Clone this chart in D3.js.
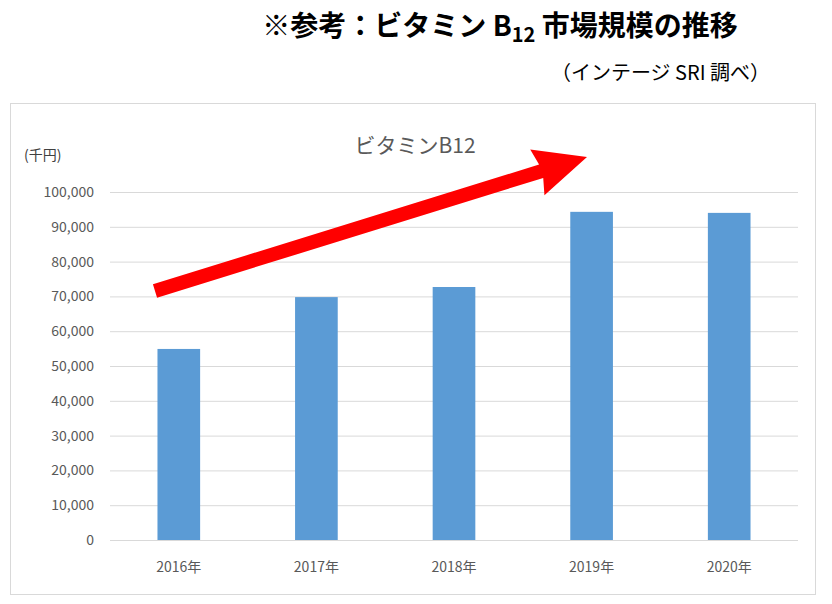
<!DOCTYPE html><html><head><meta charset="utf-8">
<script src="https://cdn.jsdelivr.net/npm/d3@7"></script>
<style>body{margin:0;background:#fff}text{font-family:"Noto Sans CJK JP","Noto Sans",sans-serif}</style>
</head><body><svg id="c" width="832" height="604"></svg>
<script>
const categories=["2016年","2017年","2018年","2019年","2020年"];
const values=[54900,69800,72700,94300,94000];
const yTicks=[0,10000,20000,30000,40000,50000,60000,70000,80000,90000,100000];
const svg=d3.select("#c");
svg.append("text").attr("x",500).attr("y",36).attr("text-anchor","middle").attr("font-size",28).attr("font-weight","bold").attr("fill","#000")
 .html('※参考：ビタミン B<tspan font-size="20" dy="6">12</tspan><tspan dy="-6"> 市場規模の推移</tspan>');
svg.append("text").attr("x",770).attr("y",80).attr("text-anchor","end").attr("font-size",20).attr("fill","#000").text("（インテージ SRI 調べ）");
svg.append("rect").attr("x",10.5).attr("y",103.5).attr("width",805).attr("height",491).attr("fill","#fff").attr("stroke","#d9d9d9");
svg.append("text").attr("x",415).attr("y",153).attr("text-anchor","middle").attr("font-size",21).attr("fill","#595959").text("ビタミンB12");
svg.append("text").attr("x",24).attr("y",160).attr("font-size",14).attr("fill","#404040").text("(千円)");
const x=d3.scaleBand().domain(categories).range([110,798]).paddingInner(0.69).paddingOuter(0.345);
const y=d3.scaleLinear().domain([0,100000]).range([540,192]);
const g=svg.append("g");
yTicks.forEach(t=>{
 g.append("line").attr("x1",110).attr("x2",798).attr("y1",y(t)+.5).attr("y2",y(t)+.5).attr("stroke","#d9d9d9");
 g.append("text").attr("x",94).attr("y",y(t)+5).attr("text-anchor","end").attr("font-size",14).attr("fill","#595959").text(d3.format(",")(t));
});
g.selectAll("rect.b").data(values).join("rect").attr("x",(d,i)=>x(categories[i])).attr("width",x.bandwidth())
 .attr("y",d=>y(d)).attr("height",d=>y(0)-y(d)).attr("fill","#5B9BD5");
categories.forEach(c=>g.append("text").attr("x",x(c)+x.bandwidth()/2).attr("y",572).attr("text-anchor","middle").attr("font-size",14).attr("fill","#595959").text(c));
// arrow
const x0=155,y0=291,x1=587,y1=157;
const ang=Math.atan2(y1-y0,x1-x0),L=Math.hypot(x1-x0,y1-y0);
const ag=svg.append("g").attr("transform",`translate(${x0},${y0}) rotate(${ang*180/Math.PI})`);
ag.append("path").attr("d",`M0,-7 L${L-48},-7 L${L-52},-24 L${L},0 L${L-52},24 L${L-48},7 L0,7 Z`).attr("fill","#ff0000");
</script></body></html>
